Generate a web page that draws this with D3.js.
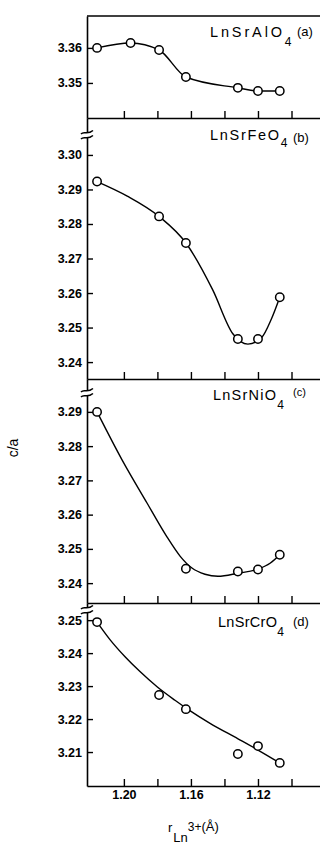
<!DOCTYPE html>
<html>
<head>
<meta charset="utf-8">
<script src="https://cdn.jsdelivr.net/npm/d3@7"></script>
<style>
  html, body { margin: 0; padding: 0; background: #fff; }
  svg { display: block; }
  text { font-family: "Liberation Sans", Arial, sans-serif; fill: #000; }
</style>
</head>
<body>
<svg id="chart" width="320" height="844"></svg>
<script>
// Ionic radius of Ln3+ (Å) on the shared, reversed x axis
const radiusTicks = [1.20, 1.18, 1.16, 1.14, 1.12, 1.10];
const radiusLabels = ["1.20", "1.16", "1.12"];

// (a) LnSrAlO4
const alX = [1.216, 1.196, 1.179, 1.163, 1.132, 1.120, 1.107];
const alY = [3.3600, 3.3614, 3.3594, 3.3517, 3.3486, 3.3477, 3.3477];
const alTicks = [3.35, 3.36];

// (b) LnSrFeO4
const feX = [1.216, 1.179, 1.163, 1.132, 1.120, 1.107];
const feY = [3.2923, 3.2822, 3.2745, 3.2467, 3.2467, 3.2588];
const feFitX = [1.216, 1.198, 1.179, 1.163, 1.147, 1.135, 1.126, 1.118, 1.112, 1.107];
const feFitY = [3.2923, 3.2881, 3.2822, 3.2745, 3.2609, 3.2482, 3.2452, 3.2470, 3.2525, 3.2588];
const feTicks = [3.24, 3.25, 3.26, 3.27, 3.28, 3.29, 3.30];

// (c) LnSrNiO4
const niX = [1.216, 1.163, 1.132, 1.120, 1.107];
const niY = [3.2900, 3.2442, 3.2434, 3.2440, 3.2483];
const niFitX = [1.216, 1.2011, 1.1862, 1.1743, 1.1665, 1.1594, 1.1516, 1.1439, 1.1319, 1.1200, 1.1128, 1.107];
const niFitY = [3.2900, 3.2760, 3.2634, 3.2535, 3.2479, 3.2444, 3.2426, 3.2420, 3.2429, 3.2441, 3.2458, 3.2483];
const niTicks = [3.24, 3.25, 3.26, 3.27, 3.28, 3.29];

// (d) LnSrCrO4
const crX = [1.216, 1.179, 1.163, 1.132, 1.120, 1.107];
const crY = [3.2494, 3.2273, 3.2230, 3.2094, 3.2118, 3.2067];
const crFitX = [1.216, 1.2083, 1.1993, 1.1904, 1.1802, 1.1695, 1.1611, 1.1486, 1.1319, 1.1200, 1.107];
const crFitY = [3.2494, 3.2441, 3.2389, 3.2344, 3.2298, 3.2257, 3.2227, 3.2187, 3.2140, 3.2106, 3.2067];
const crTicks = [3.21, 3.22, 3.23, 3.24, 3.25];

const compounds = ["LnSrAlO", "LnSrFeO", "LnSrNiO", "LnSrCrO"];
const tags = ["(a)", "(b)", "(c)", "(d)"];

const svg = d3.select("#chart");
const left = 87, right = 320;

const x = d3.scaleLinear().domain([1.222, 1.083]).range([left, right]);

// panel layout: vertical extent and y domain of each stacked plot
const panels = [
  { top: 16,  bottom: 118, dom: [3.3400, 3.3691], px: alX, py: alY, fx: alX,    fy: alY,    ticks: alTicks,
    lab: { x: 210, y: 37, w: 72, sub: 9, tx: 297, ty: 36, tfs: 13 } },
  { top: 118, bottom: 379, dom: [3.2351, 3.3107], px: feX, py: feY, fx: feFitX, fy: feFitY, ticks: feTicks,
    lab: { x: 210, y: 140, w: 69, sub: 7, tx: 293, ty: 142, tfs: 13 }, brk: 135 },
  { top: 379, bottom: 603, dom: [3.2342, 3.2996], px: niX, py: niY, fx: niFitX, fy: niFitY, ticks: niTicks,
    lab: { x: 213, y: 400, w: 63, sub: 9, tx: 293, ty: 396, tfs: 11 }, brk: 393 },
  { top: 603, bottom: 786, dom: [3.1997, 3.2552], px: crX, py: crY, fx: crFitX, fy: crFitY, ticks: crTicks,
    lab: { x: 218, y: 627, w: 59, sub: 9, tx: 293, ty: 626, tfs: 13 }, brk: 610 }
];

// top frame line of the first plot
svg.append("line")
  .attr("x1", left).attr("x2", right).attr("y1", 16).attr("y2", 16)
  .attr("stroke", "#000").attr("stroke-width", 1.6);

panels.forEach((p, i) => {
  const y = d3.scaleLinear().domain(p.dom).range([p.bottom, p.top]);
  const g = svg.append("g");

  // y axis, ticks pointing inward
  const ya = g.append("g").attr("transform", `translate(${left},0)`)
    .call(d3.axisLeft(y).tickValues(p.ticks).tickFormat(d3.format(".2f"))
      .tickSizeInner(-6).tickSizeOuter(0).tickPadding(5));
  ya.selectAll("text").attr("font-size", 12.5).attr("font-weight", "bold")
    .attr("font-family", "Liberation Sans, Arial, sans-serif");

  // x axis, ticks pointing up into the plot
  const last = i === panels.length - 1;
  const xa = g.append("g").attr("transform", `translate(0,${p.bottom})`)
    .call(d3.axisBottom(x).tickValues(radiusTicks)
      .tickFormat(d => {
        const s = d.toFixed(2);
        return last && radiusLabels.includes(s) ? s : "";
      })
      .tickSizeInner(-7).tickSizeOuter(0).tickPadding(4));
  xa.selectAll("text").attr("font-size", 12.5).attr("font-weight", "bold")
    .attr("font-family", "Liberation Sans, Arial, sans-serif");

  [ya, xa].forEach(a => {
    a.select(".domain").attr("stroke-width", 1.6);
    a.selectAll(".tick line").attr("stroke-width", 1.4);
  });

  // broken-axis mark on the left spine
  if (p.brk) {
    g.append("rect").attr("x", left - 3).attr("y", p.brk - 2).attr("width", 6).attr("height", 4).attr("fill", "#fff");
    [p.brk - 2.5, p.brk + 2.5].forEach(yy => {
      g.append("path")
        .attr("d", `M${left - 6},${yy + 1.5} C${left - 3},${yy - 2} ${left},${yy + 3} ${left + 6},${yy - 2}`)
        .attr("fill", "none").attr("stroke", "#000").attr("stroke-width", 1.5);
    });
  }

  // smooth trend curve
  const fit = p.fx.map((v, k) => [v, p.fy[k]]);
  g.append("path")
    .datum(fit)
    .attr("d", d3.line().x(d => x(d[0])).y(d => y(d[1])).curve(d3.curveMonotoneX))
    .attr("fill", "none").attr("stroke", "#000").attr("stroke-width", 1.4);

  // measured points
  g.selectAll("circle")
    .data(p.px.map((v, k) => [v, p.py[k]]))
    .join("circle")
    .attr("cx", d => x(d[0])).attr("cy", d => y(d[1])).attr("r", 4.2)
    .attr("fill", "#fff").attr("stroke", "#000").attr("stroke-width", 1.5);

  // compound label with subscript 4, and panel tag
  const L = p.lab;
  const t = g.append("text").attr("x", L.x).attr("y", L.y).attr("font-size", 14.5);
  t.append("tspan").attr("textLength", L.w).attr("lengthAdjust", "spacing").text(compounds[i]);
  t.append("tspan").attr("dy", L.sub).attr("font-size", 12).text("4");
  g.append("text").attr("x", L.tx).attr("y", L.ty).attr("font-size", L.tfs).text(tags[i]);
});

// y axis title
svg.append("text")
  .attr("transform", "translate(18,448) rotate(-90)")
  .attr("text-anchor", "middle").attr("font-size", 14)
  .text("c/a");

// x axis title: r subscript Ln3+ (Å)
const xt = svg.append("text").attr("x", 168).attr("y", 832).attr("font-size", 13);
xt.append("tspan").text("r");
xt.append("tspan").attr("dx", 1).attr("dy", 10).text("Ln");
xt.append("tspan").attr("dy", -11).attr("font-size", 12).text("3+");
xt.append("tspan").text("(Å)");
</script>
</body>
</html>
